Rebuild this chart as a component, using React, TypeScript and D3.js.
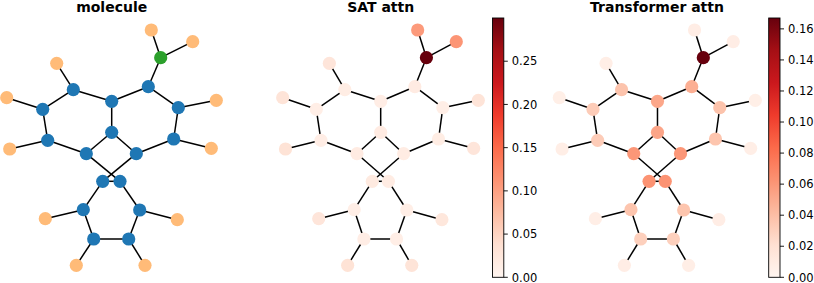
import React from "react";
import * as d3 from "d3";

// node layout, in its pixels
const nodeX = [151.3, 192.7, 160.7, 148.3, 178.3, 216.3, 173.7, 211.3, 136.3, 111.7, 111.7, 73.3, 56.7, 42.7, 6.7, 47.7, 9.7, 86.3, 102.7, 120, 83.3, 45.3, 93.7, 76.3, 128.7, 145, 139.7, 177.3];
const nodeY = [30, 41.7, 57.7, 86.7, 107.7, 100.3, 139, 148.3, 153.7, 132.3, 101.3, 89.7, 63.3, 109.3, 97.7, 140.3, 149, 153.7, 181.3, 181.3, 209.7, 218.7, 239, 265.3, 239, 265.3, 210, 219.7];
const atomTypes = ["H", "H", "N", "C", "C", "H", "C", "H", "C", "C", "C", "C", "H", "C", "H", "C", "H", "C", "C", "C", "C", "H", "C", "H", "C", "H", "C", "H"];
const edges = [[0, 2], [1, 2], [2, 3], [3, 4], [4, 5], [4, 6], [6, 7], [6, 8], [8, 9], [9, 10], [10, 3], [10, 11], [11, 12], [11, 13], [13, 14], [13, 15], [15, 16], [15, 17], [17, 9], [17, 19], [8, 18], [18, 19], [18, 20], [20, 21], [20, 22], [22, 23], [22, 24], [24, 25], [24, 26], [26, 27], [26, 19]];

const satAttn = [0.105, 0.11, 0.3, 0.018, 0.012, 0.03, 0.015, 0.028, 0.016, 0.017, 0.014, 0.015, 0.028, 0.012, 0.03, 0.014, 0.032, 0.018, 0.02, 0.016, 0.012, 0.028, 0.014, 0.032, 0.012, 0.03, 0.012, 0.025];
const transAttn = [0.008, 0.008, 0.167, 0.048, 0.037, 0.006, 0.036, 0.007, 0.06, 0.053, 0.052, 0.037, 0.007, 0.032, 0.006, 0.032, 0.007, 0.06, 0.062, 0.062, 0.036, 0.007, 0.03, 0.008, 0.03, 0.007, 0.036, 0.008];

const satTicks = [0, 0.05, 0.1, 0.15, 0.2, 0.25];
const transTicks = [0, 0.02, 0.04, 0.06, 0.08, 0.1, 0.12, 0.14, 0.16];

const typeColor: Record<string, string> = { C: "#1f77b4", H: "#ffbb78", N: "#2ca02c" };
const font = "'DejaVu Sans', sans-serif";

// same 9 anchors as matplotlib's Reds
const reds = d3.scaleLinear<string>()
  .domain(d3.range(9).map(i => i / 8))
  .range(d3.schemeReds[9] as string[]);

function Graph({ x0, x1, title, titleX, fill }: { x0: number; x1: number; title: string; titleX: number; fill: (i: number) => string }) {
  const x = d3.scaleLinear().domain([6.7, 216.3]).range([x0, x1]);
  return (
    <g>
      <text x={titleX} y={12} textAnchor="middle" fontFamily={font} fontWeight="bold" fontSize={14}>{title}</text>
      {edges.map(([a, b], i) => (
        <line key={i} x1={x(nodeX[a])} y1={nodeY[a]} x2={x(nodeX[b])} y2={nodeY[b]} stroke="#000" strokeWidth={1.5} />
      ))}
      {nodeX.map((nx, i) => (
        <circle key={i} cx={x(nx)} cy={nodeY[i]} r={6.6} fill={fill(i)} />
      ))}
    </g>
  );
}

function Colorbar({ id, x, max, ticks }: { id: string; x: number; max: number; ticks: number[] }) {
  const w = 11.3;
  const y = d3.scaleLinear().domain([0, max]).range([277.3, 18]);
  return (
    <g>
      <defs>
        <linearGradient id={id} x1="0" y1="1" x2="0" y2="0">
          {d3.range(17).map(i => <stop key={i} offset={i / 16} stopColor={reds(i / 16)} />)}
        </linearGradient>
      </defs>
      <rect x={x} y={y(max)} width={w} height={y(0) - y(max)} fill={`url(#${id})`} stroke="#000" strokeWidth={0.9} />
      {ticks.map(t => (
        <g key={t} transform={`translate(${x + w},${y(t)})`}>
          <line x2={4} stroke="#000" strokeWidth={0.9} />
          <text x={8} y={4.2} fontFamily={font} fontSize={11.5}>{t.toFixed(2)}</text>
        </g>
      ))}
    </g>
  );
}

export default function App() {
  const satMax = d3.max(satAttn) as number;
  const transMax = d3.max(transAttn) as number;
  return (
    <svg width={814} height={283} style={{ position: "absolute", left: 0, top: 0, background: "#fff" }}>
      <Graph x0={6.7} x1={216.3} title="molecule" titleX={111.7} fill={i => typeColor[atomTypes[i]]} />
      <Graph x0={282.7} x1={478.3} title="SAT attn" titleX={380.7} fill={i => reds(satAttn[i] / satMax)} />
      <Colorbar id="sat-grad" x={492.5} max={satMax} ticks={satTicks} />
      <Graph x0={559.3} x1={755.3} title="Transformer attn" titleX={657} fill={i => reds(transAttn[i] / transMax)} />
      <Colorbar id="trans-grad" x={768.7} max={transMax} ticks={transTicks} />
    </svg>
  );
}
